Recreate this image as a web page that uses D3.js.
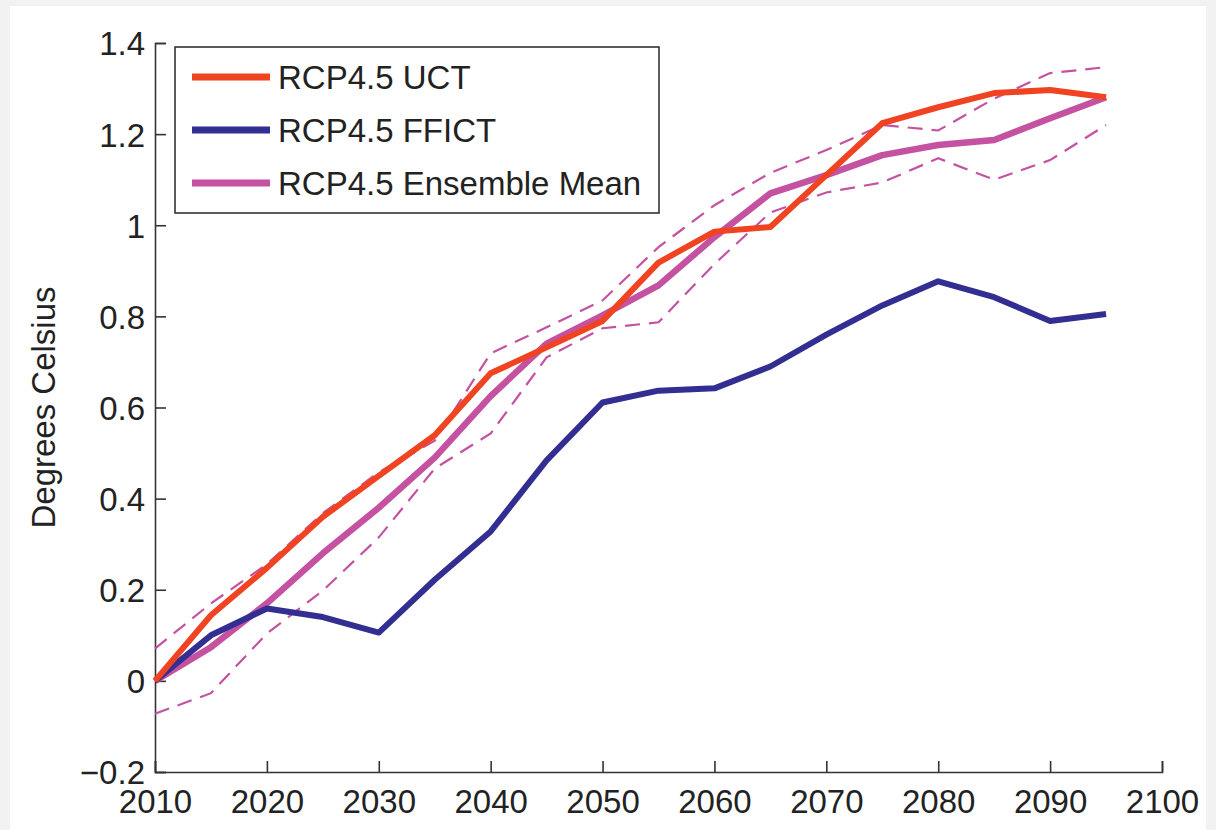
<!DOCTYPE html>
<html>
<head>
<meta charset="utf-8">
<script src="https://cdn.jsdelivr.net/npm/d3@7"></script>
<style>
  html, body { margin: 0; padding: 0; background: #f2f2f2; }
  #chart { position: absolute; left: 10px; top: 6px; width: 1196px; height: 824px; background: #fff; }
  text { font-family: "Liberation Sans", Arial, Helvetica, sans-serif; fill: #222; }
</style>
</head>
<body>
<div id="chart"></div>
<script>
// years sampled every 5 years
const years = [2010, 2015, 2020, 2025, 2030, 2035, 2040, 2045, 2050, 2055, 2060, 2065, 2070, 2075, 2080, 2085, 2090, 2095];

const uct = [0, 0.144, 0.248, 0.36, 0.45, 0.539, 0.675, 0.732, 0.79, 0.918, 0.986, 0.996, 1.11, 1.224, 1.259, 1.29, 1.297, 1.281];
const ffict = [0, 0.1, 0.159, 0.14, 0.106, 0.222, 0.328, 0.484, 0.611, 0.637, 0.642, 0.69, 0.76, 0.824, 0.877, 0.842, 0.79, 0.805];
const ensMean = [0, 0.074, 0.17, 0.28, 0.38, 0.49, 0.625, 0.74, 0.802, 0.868, 0.974, 1.07, 1.11, 1.154, 1.176, 1.187, 1.235, 1.281];
const ensUpper = [0.071, 0.17, 0.256, 0.368, 0.458, 0.527, 0.719, 0.776, 0.835, 0.952, 1.044, 1.115, 1.165, 1.22, 1.208, 1.278, 1.334, 1.347];
const ensLower = [-0.072, -0.027, 0.104, 0.198, 0.315, 0.466, 0.543, 0.71, 0.774, 0.787, 0.915, 1.028, 1.072, 1.094, 1.147, 1.1, 1.143, 1.22];

const xTicks = [2010, 2020, 2030, 2040, 2050, 2060, 2070, 2080, 2090, 2100];
const yTicks = [-0.2, 0, 0.2, 0.4, 0.6, 0.8, 1, 1.2, 1.4];

const legendLabels = ["RCP4.5 UCT", "RCP4.5 FFICT", "RCP4.5 Ensemble Mean"];
const colors = { uct: "#f04321", ffict: "#332e91", mean: "#c452a0" };

const margin = { top: 37, right: 44, bottom: 58, left: 145 };
const width = 1196 - margin.left - margin.right;
const height = 824 - margin.top - margin.bottom;

const svg = d3.select("#chart")
  .append("svg")
  .attr("width", 1196)
  .attr("height", 824)
  .append("g")
  .attr("transform", `translate(${margin.left},${margin.top})`);

const x = d3.scaleLinear().domain([2010, 2100]).range([0, width]);
const y = d3.scaleLinear().domain([-0.2, 1.4]).range([height, 0]);

const fmtY = d => d < 0 ? "\u2212" + Math.abs(d) : String(d);

// axes, MATLAB style: ticks pointing inward, box off
const xAxis = svg.append("g")
  .attr("transform", `translate(0,${height})`)
  .call(d3.axisBottom(x).tickValues(xTicks).tickFormat(d3.format("d")).tickSizeInner(-11).tickSizeOuter(-11).tickPadding(16));

const yAxis = svg.append("g")
  .call(d3.axisLeft(y).tickValues(yTicks).tickFormat(fmtY).tickSizeInner(-11).tickSizeOuter(-11).tickPadding(10));

[xAxis, yAxis].forEach(g => {
  g.selectAll("path, line").attr("stroke", "#333").attr("stroke-width", 1.6);
  g.selectAll("text").attr("font-size", 33).attr("fill", "#222")
    .style("font-family", '"Liberation Sans", Arial, sans-serif');
});
xAxis.selectAll("text").attr("dy", "0.75em");
yAxis.selectAll("text").attr("dy", "0.36em");

// y label
svg.append("text")
  .attr("transform", "rotate(-90)")
  .attr("x", -(y(0.6)))
  .attr("y", -100)
  .attr("text-anchor", "middle")
  .attr("font-size", 33)
  .text("Degrees Celsius");

const line = vals => d3.line()
  .x((d, i) => x(years[i]))
  .y(d => y(d))(vals);

// ensemble spread (dashed)
[ensUpper, ensLower].forEach(vals => {
  svg.append("path")
    .attr("d", line(vals))
    .attr("fill", "none")
    .attr("stroke", colors.mean)
    .attr("stroke-width", 2.2)
    .attr("stroke-dasharray", "15,9");
});

svg.append("path").attr("d", line(ensMean)).attr("fill", "none")
  .attr("stroke", colors.mean).attr("stroke-width", 6.5).attr("stroke-linejoin", "round");
svg.append("path").attr("d", line(ffict)).attr("fill", "none")
  .attr("stroke", colors.ffict).attr("stroke-width", 6).attr("stroke-linejoin", "round");
svg.append("path").attr("d", line(uct)).attr("fill", "none")
  .attr("stroke", colors.uct).attr("stroke-width", 6).attr("stroke-linejoin", "round");

// legend
const legend = svg.append("g").attr("transform", "translate(20,4)");
legend.append("rect")
  .attr("width", 484).attr("height", 166)
  .attr("fill", "#fff").attr("stroke", "#333").attr("stroke-width", 1.6);

const legColors = [colors.uct, colors.ffict, colors.mean];
legendLabels.forEach((lab, i) => {
  const cy = 30 + i * 53;
  legend.append("line")
    .attr("x1", 17).attr("x2", 95).attr("y1", cy).attr("y2", cy)
    .attr("stroke", legColors[i]).attr("stroke-width", 7);
  legend.append("text")
    .attr("x", 103).attr("y", cy + 12)
    .attr("font-size", 33)
    .text(lab);
});
</script>
</body>
</html>
